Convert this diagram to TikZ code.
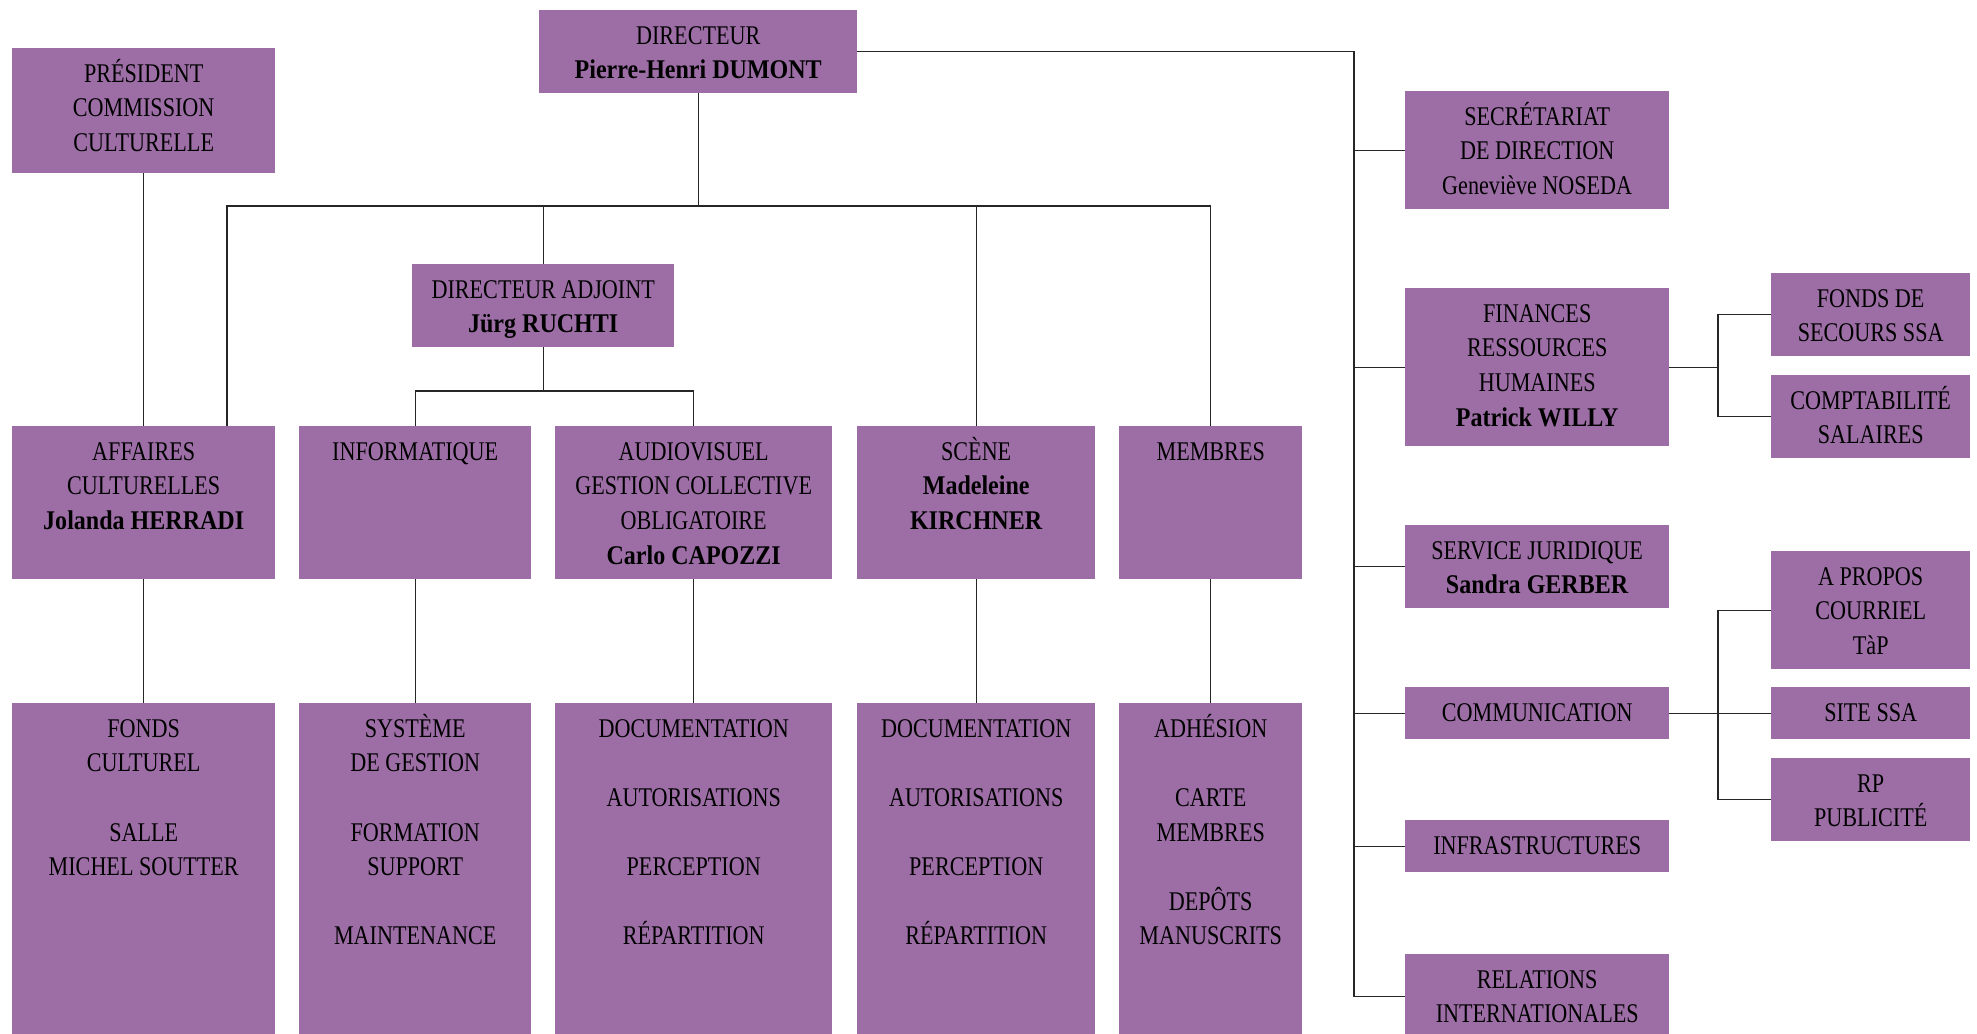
\documentclass[tikz,border=0pt]{standalone}
\usepackage{fontspec}
\setmainfont{Liberation Serif}[FakeStretch=0.82,BoldFeatures={FakeStretch=0.89}]
\usepackage{tikz}

\definecolor{boxpurple}{RGB}{157,110,166}
\newcommand\rows[1]{\begin{tabular}[t]{@{}c@{}}#1\end{tabular}}

\begin{document}
\begin{tikzpicture}[x=1pt, y=-1pt,
  box/.style={fill=boxpurple, inner sep=0pt, anchor=north west, text height=34pt, font=\fontsize{27}{34.6}\selectfont},
  link/.style={draw=black!85, line width=1.2pt}]
\useasboundingbox (0,0) rectangle (1977,1033);

% Direction
\node[box, minimum width=318pt, text depth=49pt] (director) at (539,10) {\rows{DIRECTEUR\\\textbf{Pierre-Henri DUMONT}}};
\node[box, minimum width=263pt, text depth=91pt] (president) at (12,48) {\rows{PRÉSIDENT\\COMMISSION\\CULTURELLE}};
\node[box, minimum width=262pt, text depth=49pt] (adjoint) at (412,264) {\rows{DIRECTEUR ADJOINT\\\textbf{Jürg RUCHTI}}};

% Departments
\node[box, minimum width=263pt, text depth=119pt] (affaires) at (12,426) {\rows{AFFAIRES\\CULTURELLES\\\textbf{Jolanda HERRADI}}};
\node[box, minimum width=232pt, text depth=119pt] (informatique) at (299,426) {\rows{INFORMATIQUE}};
\node[box, minimum width=277pt, text depth=119pt] (audiovisuel) at (555,426) {\rows{AUDIOVISUEL\\GESTION COLLECTIVE\\OBLIGATOIRE\\\textbf{Carlo CAPOZZI}}};
\node[box, minimum width=238pt, text depth=119pt] (scene) at (857,426) {\rows{SCÈNE\\\textbf{Madeleine}\\\textbf{KIRCHNER}}};
\node[box, minimum width=183pt, text depth=119pt] (membres) at (1119,426) {\rows{MEMBRES}};

% Tasks of the departments
\node[box, minimum width=263pt, text depth=303pt] (fondscult) at (12,703) {\rows{FONDS\\CULTUREL\\ \\SALLE\\MICHEL SOUTTER}};
\node[box, minimum width=232pt, text depth=303pt] (systeme) at (299,703) {\rows{SYSTÈME\\DE GESTION\\ \\FORMATION\\SUPPORT\\ \\MAINTENANCE}};
\node[box, minimum width=277pt, text depth=303pt] (docav) at (555,703) {\rows{DOCUMENTATION\\ \\AUTORISATIONS\\ \\PERCEPTION\\ \\RÉPARTITION}};
\node[box, minimum width=238pt, text depth=303pt] (docscene) at (857,703) {\rows{DOCUMENTATION\\ \\AUTORISATIONS\\ \\PERCEPTION\\ \\RÉPARTITION}};
\node[box, minimum width=183pt, text depth=303pt] (adhesion) at (1119,703) {\rows{ADHÉSION\\ \\CARTE\\MEMBRES\\ \\DEPÔTS\\MANUSCRITS}};

% Services
\node[box, minimum width=264pt, text depth=84pt] (secretariat) at (1405,91) {\rows{SECRÉTARIAT\\DE DIRECTION\\Geneviève NOSEDA}};
\node[box, minimum width=264pt, text depth=124pt] (finances) at (1405,288) {\rows{FINANCES\\RESSOURCES\\HUMAINES\\\textbf{Patrick WILLY}}};
\node[box, minimum width=264pt, text depth=49pt] (juridique) at (1405,525) {\rows{SERVICE JURIDIQUE\\\textbf{Sandra GERBER}}};
\node[box, minimum width=264pt, text depth=18pt] (communication) at (1405,687) {\rows{COMMUNICATION}};
\node[box, minimum width=264pt, text depth=18pt] (infra) at (1405,820) {\rows{INFRASTRUCTURES}};
\node[box, minimum width=264pt, text depth=50pt] (relations) at (1405,954) {\rows{RELATIONS\\INTERNATIONALES}};

% Sub-services
\node[box, minimum width=199pt, text depth=49pt] (fondssecours) at (1771,273) {\rows{FONDS DE\\SECOURS SSA}};
\node[box, minimum width=199pt, text depth=49pt] (comptabilite) at (1771,375) {\rows{COMPTABILITÉ\\SALAIRES}};
\node[box, minimum width=199pt, text depth=84pt] (apropos) at (1771,551) {\rows{A PROPOS\\COURRIEL\\TàP}};
\node[box, minimum width=199pt, text depth=18pt] (sitessa) at (1771,687) {\rows{SITE SSA}};
\node[box, minimum width=199pt, text depth=49pt] (rp) at (1771,758) {\rows{RP\\PUBLICITÉ}};

% Branch points
\coordinate (bus) at (227,206);
\coordinate (subbus) at (0,391);
\coordinate (trunk) at (1354,0);
\coordinate (fork) at (1718,0);

% Edges of the left tree
\draw[link] (president) -- (affaires);
\draw[link] (director.south) -- (director.south |- bus);
\draw[link] (bus |- affaires.north) -- (bus) -| (membres.north);
\draw[link] (adjoint.north) -- (adjoint.north |- bus);
\draw[link] (scene.north) -- (scene.north |- bus);
\draw[link] (adjoint.south) -- (adjoint.south |- subbus);
\draw[link] (informatique.north) |- (adjoint.south |- subbus) -| (audiovisuel.north);
\foreach \a/\b in {affaires/fondscult, informatique/systeme, audiovisuel/docav, scene/docscene, membres/adhesion}
  \draw[link] (\a) -- (\b);

% Edges of the right tree
\draw[link] (director.east) -| (trunk |- relations.west) -- (relations.west);
\foreach \n in {secretariat, finances, juridique, communication, infra}
  \draw[link] (trunk |- \n.west) -- (\n.west);
\draw[link] (finances.east) -- (fork |- finances.east);
\draw[link] (fondssecours.west) -| (fork |- finances.east) |- (comptabilite.west);
\draw[link] (communication) -- (sitessa);
\draw[link] (apropos.west) -| (fork |- communication.east) |- (rp.west);
\end{tikzpicture}
\end{document}
